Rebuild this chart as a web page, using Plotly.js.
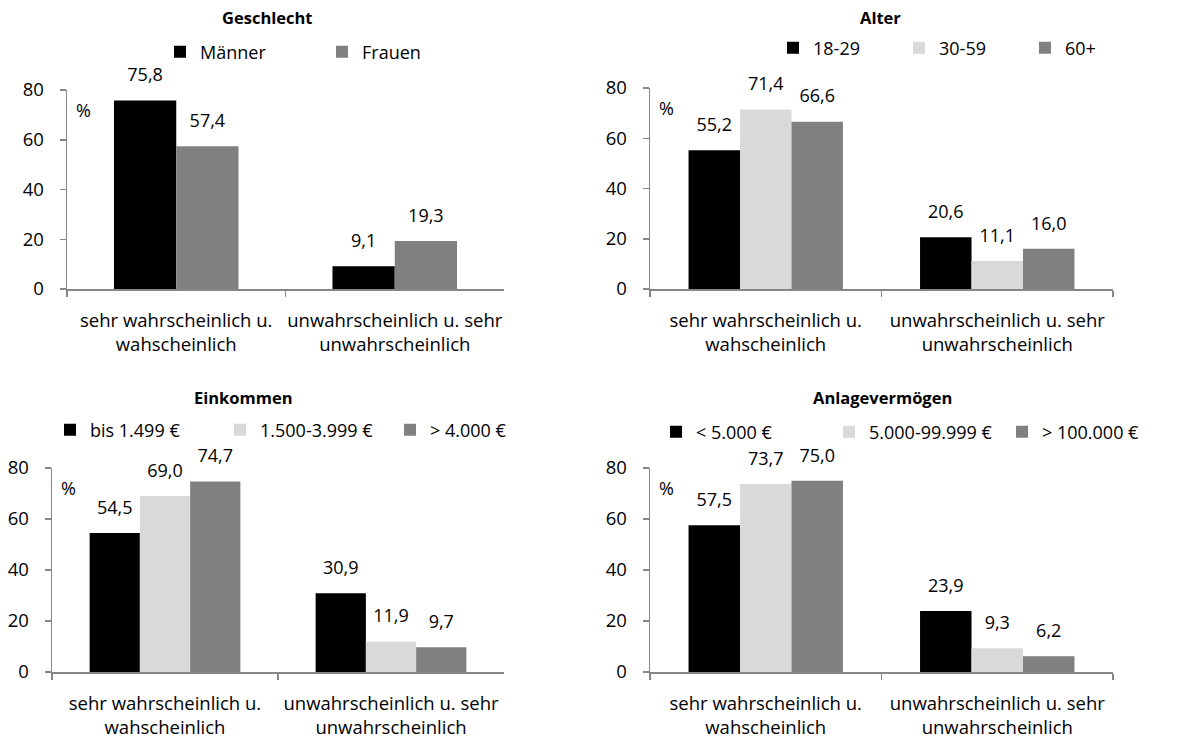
<!DOCTYPE html>
<html>
<head>
<meta charset="utf-8">
<script src="https://cdn.plot.ly/plotly-3.0.1.min.js"></script>
<style>
html,body{margin:0;padding:0;background:#fff;}
#wrap{position:relative;width:1187px;height:743px;}
.layer{position:absolute;left:0;top:0;width:1187px;height:743px;}
</style>
</head>
<body>
<div id="wrap">
  <div id="chartA" class="layer"></div>
  <div id="chartB" class="layer"></div>
</div>
<script>
// ---- data ----
const categories = ["sehr wahrscheinlich u.<br>wahscheinlich", "unwahrscheinlich u. sehr<br>unwahrscheinlich"];

const panelTitles = ["Geschlecht", "Alter", "Einkommen", "Anlagevermögen"];

const geschlechtNames = ["Männer", "Frauen"];
const geschlechtValues = [[75.8, 9.1], [57.4, 19.3]];

const alterNames = ["18-29", "30-59", "60+"];
const alterValues = [[55.2, 20.6], [71.4, 11.1], [66.6, 16.0]];

const einkommenNames = ["bis 1.499 €", "1.500-3.999 €", "> 4.000 €"];
const einkommenValues = [[54.5, 30.9], [69.0, 11.9], [74.7, 9.7]];

const vermoegenNames = ["< 5.000 €", "5.000-99.999 €", "> 100.000 €"];
const vermoegenValues = [[57.5, 23.9], [73.7, 9.3], [75.0, 6.2]];

const yTicks = [0, 20, 40, 60, 80];

// ---- styling ----
const FONT = "'Open Sans', 'Noto Sans', sans-serif";
const AX = "#868686";
const W = 1187, H = 743;
const colors2 = ["#000000", "#808080"];
const colors3 = ["#000000", "#d9d9d9", "#808080"];

function fmt(v) { return v.toFixed(1).replace(".", ","); }

// pixel boxes -> paper domains
const boxes = [
  {x0: 67, x1: 504, y0: 90, y1: 289},
  {x0: 650, x1: 1113, y0: 88, y1: 289},
  {x0: 52, x1: 504, y0: 468, y1: 672},
  {x0: 650, x1: 1113, y0: 468, y1: 672}
];

const panels = [
  {names: geschlechtNames, values: geschlechtValues, colors: colors2},
  {names: alterNames, values: alterValues, colors: colors3},
  {names: einkommenNames, values: einkommenValues, colors: colors3},
  {names: vermoegenNames, values: vermoegenValues, colors: colors3}
];

const legendPos = [
  {x: 160, y: 52, w: 117},
  {x: 773, y: 48, w: 81},
  {x: 50, y: 430, w: 125},
  {x: 656, y: 432, w: 128}
];
const titlePos = [{x: 267, y: 18}, {x: 880, y: 18}, {x: 243, y: 397}, {x: 882, y: 397}];

function build(indices, gap, transparent) {
  const data = [];
  const layout = {
    width: W, height: H,
    margin: {l: 0, r: 0, t: 0, b: 0, autoexpand: false},
    paper_bgcolor: transparent ? "rgba(0,0,0,0)" : "#fff",
    plot_bgcolor: "rgba(0,0,0,0)",
    font: {family: FONT, size: 18, color: "#000"},
    showlegend: true,
    barmode: "group",
    bargap: gap, bargroupgap: 0,
    scattermode: "group", scattergap: gap,
    annotations: []
  };
  indices.forEach((i, k) => {
    const p = panels[i];
    const n = k + 1;
    const xa = n === 1 ? "x" : "x" + n;
    const ya = n === 1 ? "y" : "y" + n;
    const lg = n === 1 ? "legend" : "legend" + n;
    const b = boxes[i];
    p.names.forEach((name, j) => {
      data.push({
        type: "bar",
        x: categories,
        y: p.values[j],
        name: name,
        xaxis: xa, yaxis: ya,
        legend: lg,
        marker: {color: p.colors[j], line: {width: 0}},
        hoverinfo: "skip"
      });
    });
    // value labels, grouped like the bars
    p.names.forEach((name, j) => {
      data.push({
        type: "scatter",
        mode: "markers+text",
        x: categories,
        y: p.values[j],
        xaxis: xa, yaxis: ya,
        showlegend: false,
        text: p.values[j].map(fmt),
        textposition: "top center",
        marker: {size: 22, opacity: 0},
        textfont: {family: FONT, size: 18, color: "#000"},
        cliponaxis: false,
        hoverinfo: "skip"
      });
    });
    layout[n === 1 ? "xaxis" : "xaxis" + n] = {
      domain: [b.x0 / W, b.x1 / W],
      anchor: ya,
      type: "category",
      showline: true, linecolor: AX, linewidth: 1.5,
      ticks: "outside", tickson: "boundaries", ticklen: 6, tickcolor: AX, tickwidth: 1.5,
      ticklabelstandoff: 14,
      tickangle: 0,
      tickfont: {family: FONT, size: 18.5, color: "#000"},
      showgrid: false, zeroline: false, fixedrange: true, automargin: false
    };
    layout[n === 1 ? "yaxis" : "yaxis" + n] = {
      domain: [1 - b.y1 / H, 1 - b.y0 / H],
      anchor: xa,
      range: [0, 80],
      tickvals: yTicks,
      showline: true, linecolor: AX, linewidth: 1.5,
      ticks: "outside", ticklen: 6, tickcolor: AX, tickwidth: 1.5,
      ticklabelstandoff: 12,
      tickfont: {family: FONT, size: 18.5, color: "#000"},
      showgrid: false, zeroline: false, fixedrange: true, automargin: false
    };
    const lp = legendPos[i];
    layout[lg] = {
      orientation: "h",
      x: lp.x / W, xanchor: "left",
      y: 1 - lp.y / H, yanchor: "middle",
      entrywidth: lp.w, entrywidthmode: "pixels",
      itemwidth: 30,
      font: {family: FONT, size: 18, color: "#000"},
      bgcolor: "rgba(0,0,0,0)",
      traceorder: "normal"
    };
    layout.annotations.push({
      text: "<b>" + panelTitles[i] + "</b>",
      xref: "paper", yref: "paper",
      x: titlePos[i].x / W,
      y: 1 - titlePos[i].y / H,
      xanchor: "center", yanchor: "middle",
      showarrow: false,
      font: {family: FONT, size: 16.5, color: "#000"}
    });
    layout.annotations.push({
      text: "%",
      xref: xa + " domain", yref: ya + " domain",
      x: 0.015, y: 0.9, xanchor: "left", yanchor: "middle",
      showarrow: false,
      font: {family: FONT, size: 18, color: "#000"}
    });
  });
  return {data, layout};
}

const cfg = {displayModeBar: false, staticPlot: true};
const A = build([0], 0.43, false);
const B = build([1, 2, 3], 0.333, true);
Plotly.newPlot("chartA", A.data, A.layout, cfg);
Plotly.newPlot("chartB", B.data, B.layout, cfg);
</script>
</body>
</html>
